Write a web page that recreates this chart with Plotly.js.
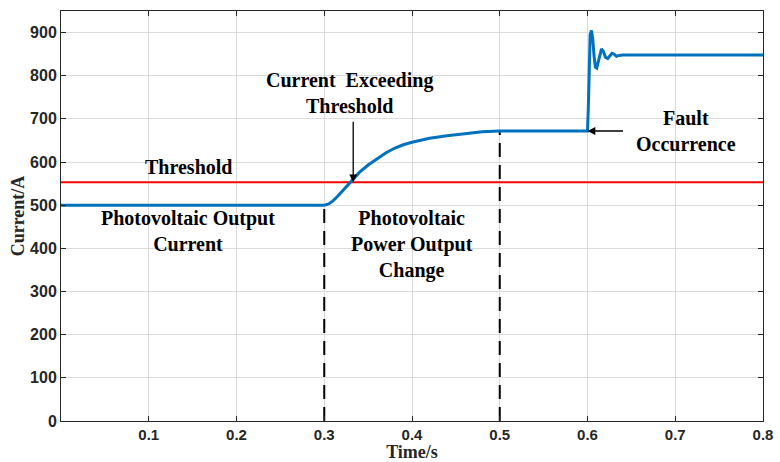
<!DOCTYPE html>
<html><head><meta charset="utf-8">
<script src="https://cdn.plot.ly/plotly-3.0.1.min.js"></script>
<style>html,body{margin:0;padding:0;background:#fff}#chart{width:780px;height:462px}</style>
</head><body><div id="chart"></div>
<script>
// Photovoltaic output current (A) vs time (s)
const timeS = [0, 0.300, 0.305, 0.310, 0.315, 0.320, 0.325, 0.330, 0.335, 0.340, 0.350, 0.360, 0.370, 0.380, 0.390, 0.400, 0.410, 0.420, 0.440, 0.460, 0.480, 0.500,
  0.600, 0.601, 0.602, 0.603, 0.6045, 0.606, 0.6075, 0.609, 0.6105, 0.612, 0.614, 0.616, 0.618, 0.6205, 0.623, 0.6255, 0.628, 0.6305, 0.633, 0.636, 0.640, 0.800];
const currentA = [500, 500, 503, 510, 520, 531, 543, 555, 566, 576, 593, 608, 621, 632, 640, 646, 651, 655, 661, 666, 670, 672,
  672, 730, 830, 895, 905, 885, 845, 820, 818, 830, 853, 862, 857, 843, 840, 846, 852, 850, 845, 847, 848, 848];
const thresholdT = [0, 0.8];
const thresholdA = [553, 553];
const changeT1 = [0.3, 0.3];
const changeA1 = [0, 500];
const changeT2 = [0.5, 0.5];
const changeA2 = [0, 672];
const xTicks = [0.1, 0.2, 0.3, 0.4, 0.5, 0.6, 0.7, 0.8];
const xTickText = ['0.1', '0.2', '0.3', '0.4', '0.5', '0.6', '0.7', '0.8'];
const yTicks = [0, 100, 200, 300, 400, 500, 600, 700, 800, 900];
const exceedPoint = [0.333, 553];
const faultPoint = [0.6, 672];

const serif = 'Liberation Serif, Times New Roman, serif';
const sans = 'Liberation Sans, Arial, sans-serif';

const traces = [
  {x: changeT1, y: changeA1, mode: 'lines', line: {color: '#000', width: 2, dash: '14px,8px'}, hoverinfo: 'skip'},
  {x: changeT2, y: changeA2, mode: 'lines', line: {color: '#000', width: 2, dash: '14px,8px'}, hoverinfo: 'skip'},
  {x: thresholdT, y: thresholdA, mode: 'lines', line: {color: '#ff0000', width: 2}},
  {x: timeS, y: currentA, mode: 'lines', line: {color: '#0072BD', width: 3}}
];

const annFont = {family: serif, size: 20, color: '#000', weight: 'bold'};
const layout = {
  width: 780, height: 462,
  margin: {l: 61, r: 17, t: 11, b: 41},
  paper_bgcolor: '#fff', plot_bgcolor: '#fff',
  showlegend: false,
  xaxis: {
    range: [0, 0.8], tickvals: xTicks, ticktext: xTickText,
    showgrid: true, gridcolor: '#dcdcdc', gridwidth: 1,
    showline: true, linecolor: '#262626', linewidth: 1, mirror: 'ticks',
    ticks: 'inside', ticklen: 5, tickcolor: '#262626',
    zeroline: false,
    tickfont: {family: sans, size: 15, color: '#262626', weight: 'bold'},
    title: {text: 'Time/s', font: {family: serif, size: 18, color: '#262626', weight: 'bold'}, standoff: 3}
  },
  yaxis: {
    range: [0, 950], tickvals: yTicks,
    showgrid: true, gridcolor: '#dcdcdc', gridwidth: 1,
    showline: true, linecolor: '#262626', linewidth: 1, mirror: 'ticks',
    ticks: 'inside', ticklen: 5, tickcolor: '#262626',
    zeroline: false,
    tickfont: {family: sans, size: 16, color: '#262626', weight: 'bold'},
    title: {text: 'Current/A', font: {family: serif, size: 18, color: '#262626', weight: 'bold'}, standoff: 0}
  },
  annotations: [
    {x: exceedPoint[0], y: exceedPoint[1], xref: 'x', yref: 'y', ax: 0, ay: -62, text: '', showarrow: true,
     arrowhead: 2, arrowsize: 1.2, arrowwidth: 1.3, arrowcolor: '#000'},
    {x: 0.329, y: 700, xref: 'x', yref: 'y', yanchor: 'bottom', text: 'Current  Exceeding<br>Threshold', showarrow: false, font: annFont},
    {x: 0.145, y: 553, xref: 'x', yref: 'y', yanchor: 'bottom', yshift: 2, text: 'Threshold', showarrow: false, font: annFont},
    {x: 0.145, y: 500, xref: 'x', yref: 'y', yanchor: 'top', text: 'Photovoltaic Output<br>Current', showarrow: false, font: annFont},
    {x: 0.40, y: 500, xref: 'x', yref: 'y', yanchor: 'top', text: 'Photovoltaic<br>Power Output<br>Change', showarrow: false, font: annFont},
    {x: faultPoint[0], y: faultPoint[1], xref: 'x', yref: 'y', ax: 37, ay: 0, text: '', showarrow: true,
     arrowhead: 2, arrowsize: 1.2, arrowwidth: 1.3, arrowcolor: '#000'},
    {x: 0.712, y: 672, xref: 'x', yref: 'y', yanchor: 'middle', text: 'Fault<br>Occurrence', showarrow: false, font: annFont}
  ]
};

Plotly.newPlot('chart', traces, layout, {staticPlot: true, displayModeBar: false});
</script>
</body></html>
